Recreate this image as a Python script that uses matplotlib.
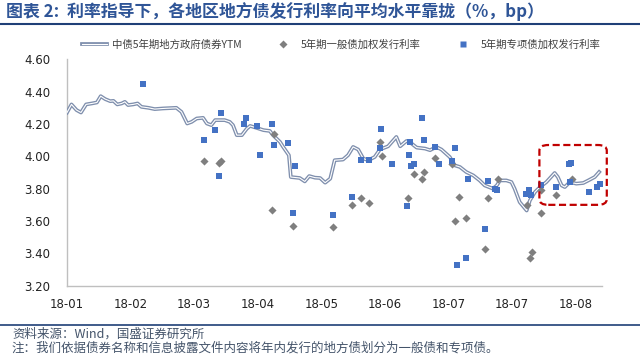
import matplotlib
matplotlib.use("Agg")
import matplotlib.pyplot as plt
import matplotlib.patheffects as pe
from matplotlib.patches import FancyBboxPatch
from matplotlib.lines import Line2D

plt.rcParams['font.family'] = ['Noto Sans CJK SC', 'DejaVu Sans']

# ---- data (x in tick-interval units: 0 = first "18-01" label) ----
tick_labels = ["18-01", "18-02", "18-03", "18-04", "18-05", "18-06", "18-07", "18-07", "18-08"]

ytm_x = [0.00, 0.07, 0.15, 0.22, 0.30, 0.39, 0.47, 0.53, 0.60, 0.68, 0.73, 0.79, 0.86, 0.91,
         0.96, 1.04, 1.11, 1.17, 1.28, 1.38, 1.51, 1.72, 1.80, 1.89, 1.96, 2.04, 2.14, 2.20,
         2.27, 2.33, 2.48, 2.56, 2.61, 2.67, 2.75, 2.83, 2.88, 2.98, 3.09, 3.19, 3.24, 3.35,
         3.40, 3.49, 3.52, 3.66, 3.74, 3.81, 3.90, 3.98, 4.06, 4.14, 4.21, 4.34, 4.42, 4.50,
         4.58, 4.66, 4.74, 4.84, 4.92, 5.05, 5.18, 5.24, 5.34, 5.42, 5.50, 5.63, 5.71, 5.81,
         5.89, 6.02, 6.10, 6.18, 6.28, 6.39, 6.49, 6.57, 6.70, 6.76, 6.81, 6.91, 6.99, 7.04,
         7.12, 7.23, 7.28, 7.36, 7.44, 7.54, 7.67, 7.72, 7.78, 7.83, 7.91, 8.01, 8.12, 8.20,
         8.30, 8.37]
ytm_y = [4.271, 4.321, 4.286, 4.271, 4.321, 4.327, 4.333, 4.372, 4.354, 4.341, 4.343, 4.321,
         4.327, 4.337, 4.317, 4.321, 4.327, 4.306, 4.300, 4.292, 4.296, 4.300, 4.275, 4.203,
         4.213, 4.234, 4.238, 4.203, 4.193, 4.224, 4.224, 4.213, 4.193, 4.131, 4.131, 4.172,
         4.188, 4.176, 4.162, 4.157, 4.131, 4.089, 4.058, 4.007, 3.872, 3.866, 3.845, 3.878,
         3.868, 3.866, 3.837, 3.862, 3.976, 3.980, 4.007, 4.058, 4.042, 3.986, 3.976, 3.996,
         4.042, 4.062, 4.120, 4.062, 4.095, 4.079, 4.054, 4.048, 4.038, 4.058, 4.042, 3.996,
         3.944, 3.934, 3.903, 3.882, 3.851, 3.820, 3.800, 3.820, 3.851, 3.851, 3.841, 3.800,
         3.717, 3.665, 3.727, 3.779, 3.810, 3.841, 3.897, 3.872, 3.820, 3.810, 3.841, 3.831,
         3.835, 3.851, 3.872, 3.903]

general_x = [2.16, 2.39, 2.42, 3.25, 3.23, 3.56, 4.19, 4.49, 4.62, 4.75, 4.92, 4.95, 5.36,
             5.46, 5.62, 5.59, 5.79, 6.05, 6.11, 6.16, 6.28, 6.58, 6.62, 6.78, 7.28, 7.32,
             7.45, 7.46, 7.69, 7.95, 7.23]
general_y = [3.97, 3.96, 3.97, 4.14, 3.67, 3.57, 3.56, 3.70, 3.74, 3.71, 4.09, 4.00, 3.74,
             3.89, 3.90, 3.86, 3.99, 3.95, 3.60, 3.75, 3.62, 3.43, 3.74, 3.86, 3.37, 3.41,
             3.65, 3.79, 3.76, 3.86, 3.70]

special_x = [2.15, 2.42, 2.39, 3.22, 3.25, 3.55, 4.19, 4.49, 4.62, 4.75, 4.94, 4.92, 5.35,
             5.39, 5.58, 5.61, 5.79, 6.10, 6.14, 6.28, 6.57, 6.62, 7.22, 7.30, 7.45, 7.69,
             7.90, 7.93,
             1.20, 2.32, 2.81, 2.78, 2.99, 3.03, 3.48, 3.59, 5.11, 5.38, 5.41, 5.45, 5.85,
             6.06, 6.31, 6.73, 6.77, 7.27, 7.91, 8.21, 8.33, 8.38]
special_y = [4.10, 4.27, 3.88, 4.20, 4.07, 3.65, 3.64, 3.75, 3.98, 3.98, 4.17, 4.05, 3.69,
             4.09, 4.24, 4.10, 4.06, 4.05, 3.33, 3.37, 3.55, 3.85, 3.77, 3.76, 3.82, 3.81,
             3.95, 3.96,
             4.45, 4.16, 4.24, 4.20, 4.19, 4.01, 4.08, 3.94, 3.95, 4.01, 3.94, 3.95, 3.95,
             3.97, 3.86, 3.80, 3.79, 3.79, 3.84, 3.78, 3.81, 3.83]

series_names = ["中债5年期地方政府债券YTM", "5年期一般债加权发行利率", "5年期专项债加权发行利率"]
title = "图表 2:  利率指导下，各地区地方债发行利率向平均水平靠拢（%，bp）"
source = "资料来源：Wind，国盛证券研究所"
note = "注：我们依据债券名称和信息披露文件内容将年内发行的地方债划分为一般债和专项债。"

# ---- figure ----
W, H = 640, 354
fig = plt.figure(figsize=(6.4, 3.54), dpi=100)
ax = fig.add_axes([66.7 / W, 1 - 285.7 / H, (601.7 - 66.7) / W, (285.7 - 59.3) / H])

line_col = "#7F8FAD"
blue = "#4472C4"
grey = "#7F7F7F"
stroke = [pe.Stroke(linewidth=2.7, foreground=line_col), pe.Normal()]

ax.plot(ytm_x, ytm_y, color="white", lw=0.8, zorder=3, solid_joinstyle="round",
        path_effects=stroke, label=series_names[0])
ax.scatter(general_x, general_y, marker="D", s=17, color=grey, lw=0, zorder=4,
           label=series_names[1])
ax.scatter(special_x, special_y, marker="s", s=17, color=blue, lw=0, zorder=5,
           label=series_names[2])

ax.set_xlim(-0.005, 8.41)
ax.set_ylim(3.20, 4.60)
yt = [3.2, 3.4, 3.6, 3.8, 4.0, 4.2, 4.4, 4.6]
ax.set_yticks(yt)
ax.set_yticklabels([f"{v:.2f}" for v in yt])
ax.set_xticks(range(len(tick_labels)))
ax.set_xticklabels(tick_labels)
ax.tick_params(axis="both", length=0, labelsize=8.5, colors="#222222")
ax.tick_params(axis="y", pad=12)
ax.tick_params(axis="x", pad=9)
for lab in ax.get_xticklabels() + ax.get_yticklabels():
    lab.set_fontfamily("DejaVu Sans")
for s in ["top", "right"]:
    ax.spines[s].set_visible(False)
for s in ["left", "bottom"]:
    ax.spines[s].set_color("#BFBFBF")
    ax.spines[s].set_linewidth(1.0)

# red dashed highlight box
box = FancyBboxPatch((7.43, 3.70), 8.49 - 7.43, 4.07 - 3.70,
                     boxstyle="round,pad=0,rounding_size=0.14",
                     mutation_aspect=0.25,
                     fill=False, edgecolor="#C00000", lw=1.6, ls=(0, (3.2, 1.6)),
                     clip_on=False, zorder=6)
ax.add_patch(box)

# legend
h_line = Line2D([], [], color="white", lw=0.8, path_effects=stroke)
h_gen = Line2D([], [], marker="D", ls="none", color=grey, markersize=4.2, mec="none")
h_spe = Line2D([], [], marker="s", ls="none", color=blue, markersize=4.0, mec="none")
leg = fig.legend([h_line, h_gen, h_spe], series_names, loc="center",
                 bbox_to_anchor=(341 / W, 1 - 45 / H), ncol=3, frameon=False,
                 fontsize=7.5, handlelength=2.4, columnspacing=2.8, handletextpad=0.5)
for t in leg.get_texts():
    t.set_color("#404040")

# title, rules, footnotes
hdr_col = "#2F5597"
fig.text(6 / W, 1 - 12 / H, title, fontsize=12.2, fontweight="bold", style="italic",
         color=hdr_col, va="center", ha="left")
fig.add_artist(Line2D([0, 1], [1 - 23.5 / H, 1 - 23.5 / H], color="#1F3F77", lw=1.5))
fig.add_artist(Line2D([0, 1], [1 - 324.5 / H, 1 - 324.5 / H], color="#1F3F77", lw=1.2))
fig.text(12 / W, 1 - 334 / H, source, fontsize=9, style="italic", color="#44546A",
         va="center", ha="left")
fig.text(12 / W, 1 - 348 / H, note, fontsize=9, style="italic", color="#44546A",
         va="center", ha="left")

fig.savefig("out.png", dpi=100)
